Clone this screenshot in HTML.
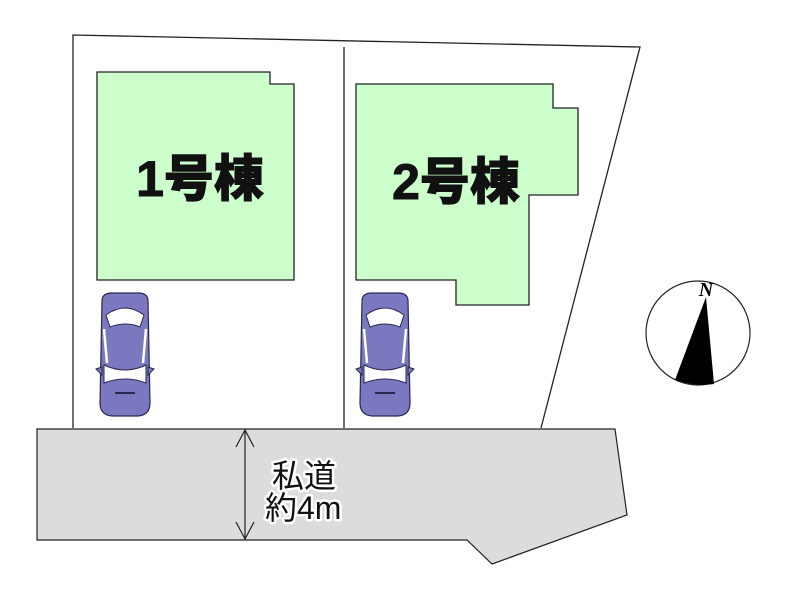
<!DOCTYPE html>
<html><head><meta charset="utf-8"><style>html,body{margin:0;padding:0;background:#fff}svg{display:block}</style></head><body>
<svg width="800" height="600" viewBox="0 0 800 600" xmlns="http://www.w3.org/2000/svg">
<defs>
<g id="car">
<path d="M4,8 Q4,0 14,0 L40,0 Q50,0 50,8 L52,110 Q52,122 40,123 L14,123 Q2,122 2,110 Z" fill="#7b78c0" stroke="#2a2850" stroke-width="1.2"/>
<path d="M8,22 Q27,8 46,22 L42,34 Q27,28 12,34 Z" fill="#fff" stroke="#2a2850" stroke-width="1"/>
<path d="M6,72 Q27,82 48,72 L48,90 Q27,82 6,90 Z" fill="#fff" stroke="#2a2850" stroke-width="1"/>
<path d="M6,36 L9,70 M48,36 L45,70" stroke="#fff" stroke-width="2.5"/>
<path d="M-2,76 L4,74 L4,82 Z M56,76 L50,74 L50,82 Z" fill="#7b78c0" stroke="#2a2850" stroke-width="1"/>
<path d="M17,100 L37,100" stroke="#2a2850" stroke-width="2"/>
</g>
</defs>
<polyline points="73,428 73,35 640,47 541,428" fill="none" stroke="#222" stroke-width="1.3"/>
<line x1="344" y1="47" x2="344" y2="428" stroke="#222" stroke-width="1.3"/>
<polygon points="97,72 270,72 270,84 294,84 294,280 97,280" fill="#ccffcc" stroke="#222" stroke-width="1.3"/>
<polygon points="356,84 553,84 553,108 578,108 578,195 529,195 529,305 456,305 456,280 356,280" fill="#ccffcc" stroke="#222" stroke-width="1.3"/>
<g font-family="Liberation Sans,'Noto Sans CJK JP',sans-serif" font-size="50" font-weight="900" fill="#111" stroke="#111" stroke-width="1">
<text x="200" y="196" text-anchor="middle">1号棟</text>
<text x="456" y="199" text-anchor="middle">2号棟</text>
</g>
<use href="#car" x="98" y="293"/>
<use href="#car" x="358" y="293"/>
<polygon points="37,429 615,429 627,515 492,564 467,540 37,540" fill="#dcdcdc" stroke="#222" stroke-width="1.2"/>
<line x1="245" y1="430" x2="245" y2="539" stroke="#222" stroke-width="1.2"/>
<polyline points="236,447 245,430 254,447" fill="none" stroke="#222" stroke-width="1.2"/>
<polyline points="236,522 245,539 254,522" fill="none" stroke="#222" stroke-width="1.2"/>
<g font-family="Liberation Sans,'Noto Sans CJK JP',sans-serif" font-size="32" fill="#111" stroke="#fff" stroke-width="5" paint-order="stroke" stroke-linejoin="round">
<text x="272" y="487">私道</text>
<text x="265" y="519">約4m</text>
</g>
<circle cx="698" cy="333" r="52" fill="#fff" stroke="#222" stroke-width="1.2"/>
<path d="M706,297 L714,384 Q695,387 675,380 Z" fill="#000"/>
<text x="706" y="296" text-anchor="middle" font-family="Liberation Serif,serif" font-style="italic" font-weight="bold" font-size="20">N</text>
</svg>
</body></html>
